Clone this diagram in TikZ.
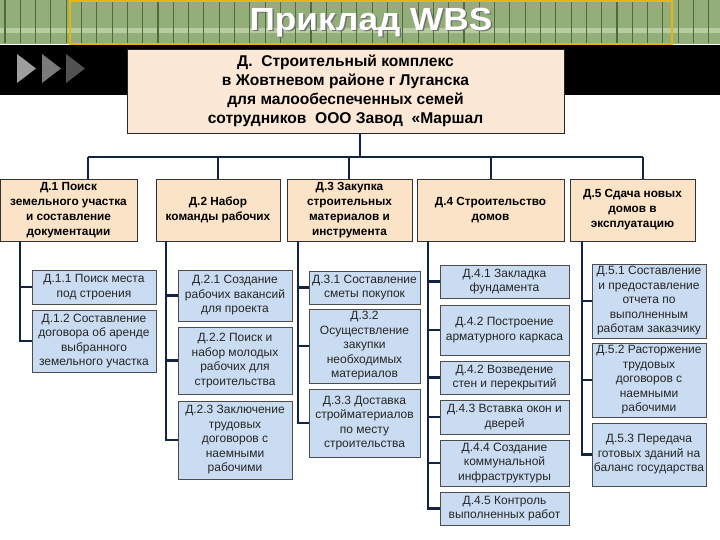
\documentclass[tikz,border=0pt]{standalone}
\usepackage{fontspec}
\setmainfont{Liberation Sans}
\definecolor{navy}{HTML}{14233F}
\definecolor{peach}{HTML}{FBE3C8}
\definecolor{rootfill}{HTML}{FCE8D6}
\definecolor{lblue}{HTML}{C9DCF1}
\definecolor{gband}{HTML}{93AE78}
\definecolor{gpale}{HTML}{C9D9B4}
\definecolor{gstripe}{HTML}{4E6B3E}
\definecolor{gold}{HTML}{E9B703}
\begin{document}
\begin{tikzpicture}[x=1pt,y=-1pt,
  lone/.style={draw=black!80, line width=0.8pt, fill=peach, align=center, inner sep=1pt,
    font=\bfseries\fontsize{11.8}{15}\selectfont, text=black},
  ltwo/.style={draw=black!70, line width=0.7pt, fill=lblue, align=center, inner sep=1pt,
    font=\fontsize{12}{14.5}\selectfont, text=black!85},
  rootbox/.style={draw=black!85, line width=0.9pt, fill=rootfill, align=center, inner sep=1pt,
    font=\bfseries\fontsize{15.6}{19}\selectfont, text=black},
  conn/.style={draw=navy, line width=2.6pt},
  bus/.style={draw=navy, line width=2pt}]
\useasboundingbox (0,0) rectangle (720,540);
\fill[white] (0,0) rectangle (720,540);
% header band
\fill[gband] (0,0) rectangle (720,44);
\fill[gpale, opacity=0.7] (0,28) rectangle (720,33);
\foreach \xx in {5,20.3,...,720} \draw[gstripe, line width=1.1pt] (\xx,0) -- (\xx,43);
\draw[gold, line width=2pt] (70,1) rectangle (672,44);
\fill[black] (0,45) rectangle (720,95);
\fill[black!38] (17,54) -- (36,68.5) -- (17,83) -- cycle;
\fill[black!52] (42,54) -- (61,68.5) -- (42,83) -- cycle;
\fill[black!68] (66,54) -- (85,68.5) -- (66,83) -- cycle;
\node[font=\bfseries\fontsize{32}{32}\selectfont, text=black!55, xscale=1.1] (titleshadow) at (372.5,24) {Приклад WBS};
\node[font=\bfseries\fontsize{32}{32}\selectfont, text=white, xscale=1.1] (title) at (371,22.5) {Приклад WBS};
% root
\node[rootbox, minimum width=437, minimum height=84] (root) at (345.5,91)
  {Д.\ \ Строительный комплекс\\в Жовтневом районе г Луганска\\для малообеспеченных семей\\сотрудников\ \ ООО Завод\ \ «Маршал};
% level 1
\node[lone, minimum width=137, minimum height=62] (d1) at (68.5,210) {Д.1 Поиск\\земельного участка\\и составление\\документации};
\node[lone, minimum width=124, minimum height=62] (d2) at (218,210) {Д.2 Набор\\команды рабочих};
\node[lone, minimum width=125, minimum height=62] (d3) at (349.5,210) {Д.3 Закупка\\строительных\\материалов и\\инструмента};
\node[lone, minimum width=147, minimum height=62] (d4) at (490.5,210) {Д.4 Строительство\\домов};
\node[lone, minimum width=125, minimum height=62] (d5) at (632.5,210) {Д.5 Сдача новых\\домов в\\эксплуатацию};
% bus
\coordinate (rdrop) at (360,157);
\coordinate (k1) at (88,157);
\coordinate (k2) at (218,157);
\coordinate (k3) at (349,157);
\coordinate (k4) at (491,157);
\coordinate (k5) at (643,157);
\draw[bus] (k1) -- (k5);
\draw[bus] (root.south -| rdrop) -- (rdrop);
\foreach \k/\d in {k1/d1,k2/d2,k3/d3,k4/d4,k5/d5} \draw[bus] (\k) -- (\k |- \d.north);
% level 2
\node[ltwo, minimum width=124, minimum height=34] (d11) at (94,287) {Д.1.1 Поиск места\\под строения};
\node[ltwo, minimum width=124, minimum height=62] (d12) at (94,341) {Д.1.2 Составление\\договора об аренде\\выбранного\\земельного участка};
\node[ltwo, minimum width=114, minimum height=51] (d21) at (235,295.5) {Д.2.1 Создание\\рабочих вакансий\\для проекта};
\node[ltwo, minimum width=114, minimum height=67] (d22) at (235,360.5) {Д.2.2 Поиск и\\набор молодых\\рабочих для\\строительства};
\node[ltwo, minimum width=114, minimum height=78] (d23) at (235,440) {Д.2.3 Заключение\\трудовых\\договоров с\\наемными\\рабочими};
\node[ltwo, minimum width=111, minimum height=33] (d31) at (364.5,287.5) {Д.3.1 Составление\\сметы покупок};
\node[ltwo, minimum width=111, minimum height=74] (d32) at (364.5,346) {Д.3.2\\Осуществление\\закупки\\необходимых\\материалов};
\node[ltwo, minimum width=111, minimum height=68] (d33) at (364.5,423) {Д.3.3 Доставка\\стройматериалов\\по месту\\строительства};
\node[ltwo, minimum width=129, minimum height=33] (d41) at (504.5,281.5) {Д.4.1 Закладка\\фундамента};
\node[ltwo, minimum width=129, minimum height=50] (d42) at (504.5,330) {Д.4.2 Построение\\арматурного каркаса};
\node[ltwo, minimum width=129, minimum height=33] (d42b) at (504.5,377.5) {Д.4.2 Возведение\\стен и перекрытий};
\node[ltwo, minimum width=129, minimum height=34] (d43) at (504.5,417) {Д.4.3 Вставка окон и\\дверей};
\node[ltwo, minimum width=129, minimum height=46] (d44) at (504.5,463) {Д.4.4 Создание\\коммунальной\\инфраструктуры};
\node[ltwo, minimum width=129, minimum height=33] (d45) at (504.5,508.5) {Д.4.5 Контроль\\выполненных работ};
\node[ltwo, minimum width=114, minimum height=74] (d51) at (649,301) {Д.5.1 Составление\\и предоставление\\отчета по\\выполненным\\работам заказчику};
\node[ltwo, minimum width=114, minimum height=74] (d52) at (649,380) {Д.5.2 Расторжение\\трудовых\\договоров с\\наемными\\рабочими};
\node[ltwo, minimum width=114, minimum height=63] (d53) at (649,454.5) {Д.5.3 Передача\\готовых зданий на\\баланс государства};
% spines
\coordinate (s1) at (20,0);
\coordinate (s2) at (166,0);
\coordinate (s3) at (298,0);
\coordinate (s4) at (428,0);
\coordinate (s5) at (582,0);
\draw[conn] (s1 |- d1.south) -- (s1 |- d12.west) -- (d12.west);
\draw[conn] (s1 |- d11.west) -- (d11.west);
\draw[conn] (s2 |- d2.south) -- (s2 |- d23.west) -- (d23.west);
\foreach \c in {d21,d22} \draw[conn] (s2 |- \c.west) -- (\c.west);
\draw[conn] (s3 |- d3.south) -- (s3 |- d33.west) -- (d33.west);
\foreach \c in {d31,d32} \draw[conn] (s3 |- \c.west) -- (\c.west);
\draw[conn] (s4 |- d4.south) -- (s4 |- d45.west) -- (d45.west);
\foreach \c in {d41,d42,d42b,d43,d44} \draw[conn] (s4 |- \c.west) -- (\c.west);
\draw[conn] (s5 |- d5.south) -- (s5 |- d53.west) -- (d53.west);
\foreach \c in {d51,d52} \draw[conn] (s5 |- \c.west) -- (\c.west);
\end{tikzpicture}
\end{document}
